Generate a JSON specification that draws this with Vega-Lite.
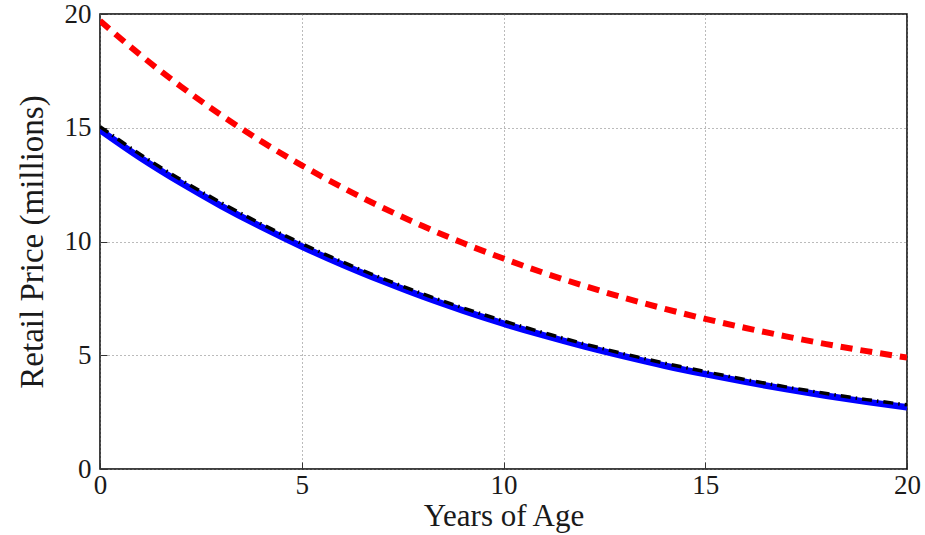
{
  "$schema": "https://vega.github.io/schema/vega-lite/v6.json",
  "width": 807,
  "height": 455,
  "autosize": "none",
  "padding": {"left": 100, "top": 14, "right": 18, "bottom": 66},
  "background": "white",
  "config": {
    "font": "Liberation Serif",
    "view": {"stroke": "black", "strokeWidth": 1.5},
    "axis": {
      "labelFont": "Liberation Serif",
      "titleFont": "Liberation Serif",
      "labelFontSize": 27,
      "titleFontSize": 33,
      "labelColor": "#1a1a1a",
      "titleColor": "#1a1a1a",
      "titleFontWeight": "normal",
      "grid": true,
      "gridColor": "#777",
      "gridDash": [1, 3],
      "gridWidth": 1,
      "domain": false,
      "ticks": true,
      "tickColor": "#333",
      "tickSize": -7,
      "tickWidth": 1
    }
  },
  "datasets": {
    "curves": [
      {"age": 0, "price": 14.9, "series": "blue"},
      {"age": 1, "price": 13.68, "series": "blue"},
      {"age": 2, "price": 12.58, "series": "blue"},
      {"age": 3, "price": 11.57, "series": "blue"},
      {"age": 4, "price": 10.64, "series": "blue"},
      {"age": 5, "price": 9.78, "series": "blue"},
      {"age": 6, "price": 8.99, "series": "blue"},
      {"age": 7, "price": 8.26, "series": "blue"},
      {"age": 8, "price": 7.58, "series": "blue"},
      {"age": 9, "price": 6.96, "series": "blue"},
      {"age": 10, "price": 6.39, "series": "blue"},
      {"age": 11, "price": 5.87, "series": "blue"},
      {"age": 12, "price": 5.39, "series": "blue"},
      {"age": 13, "price": 4.95, "series": "blue"},
      {"age": 14, "price": 4.54, "series": "blue"},
      {"age": 15, "price": 4.17, "series": "blue"},
      {"age": 16, "price": 3.83, "series": "blue"},
      {"age": 17, "price": 3.51, "series": "blue"},
      {"age": 18, "price": 3.22, "series": "blue"},
      {"age": 19, "price": 2.95, "series": "blue"},
      {"age": 20, "price": 2.71, "series": "blue"},
      {"age": 0, "price": 15.05, "series": "black"},
      {"age": 1, "price": 13.83, "series": "black"},
      {"age": 2, "price": 12.72, "series": "black"},
      {"age": 3, "price": 11.71, "series": "black"},
      {"age": 4, "price": 10.77, "series": "black"},
      {"age": 5, "price": 9.91, "series": "black"},
      {"age": 6, "price": 9.11, "series": "black"},
      {"age": 7, "price": 8.38, "series": "black"},
      {"age": 8, "price": 7.70, "series": "black"},
      {"age": 9, "price": 7.08, "series": "black"},
      {"age": 10, "price": 6.51, "series": "black"},
      {"age": 11, "price": 5.99, "series": "black"},
      {"age": 12, "price": 5.50, "series": "black"},
      {"age": 13, "price": 5.06, "series": "black"},
      {"age": 14, "price": 4.65, "series": "black"},
      {"age": 15, "price": 4.28, "series": "black"},
      {"age": 16, "price": 3.93, "series": "black"},
      {"age": 17, "price": 3.61, "series": "black"},
      {"age": 18, "price": 3.32, "series": "black"},
      {"age": 19, "price": 3.05, "series": "black"},
      {"age": 20, "price": 2.82, "series": "black"},
      {"age": 0, "price": 19.7, "series": "red"},
      {"age": 1, "price": 18.2, "series": "red"},
      {"age": 2, "price": 16.82, "series": "red"},
      {"age": 3, "price": 15.56, "series": "red"},
      {"age": 4, "price": 14.4, "series": "red"},
      {"age": 5, "price": 13.35, "series": "red"},
      {"age": 6, "price": 12.38, "series": "red"},
      {"age": 7, "price": 11.49, "series": "red"},
      {"age": 8, "price": 10.68, "series": "red"},
      {"age": 9, "price": 9.93, "series": "red"},
      {"age": 10, "price": 9.25, "series": "red"},
      {"age": 11, "price": 8.62, "series": "red"},
      {"age": 12, "price": 8.05, "series": "red"},
      {"age": 13, "price": 7.52, "series": "red"},
      {"age": 14, "price": 7.04, "series": "red"},
      {"age": 15, "price": 6.6, "series": "red"},
      {"age": 16, "price": 6.2, "series": "red"},
      {"age": 17, "price": 5.83, "series": "red"},
      {"age": 18, "price": 5.49, "series": "red"},
      {"age": 19, "price": 5.18, "series": "red"},
      {"age": 20, "price": 4.9, "series": "red"}
    ]
  },
  "data": {"name": "curves"},
  "encoding": {
    "x": {
      "field": "age", "type": "quantitative",
      "scale": {"domain": [0, 20], "nice": false, "zero": false},
      "axis": {"title": "Years of Age", "titleFontSize": 31, "titleBaseline": "alphabetic", "titleY": 56, "values": [0, 5, 10, 15, 20], "labelPadding": 10, "labelFlush": false}
    },
    "y": {
      "field": "price", "type": "quantitative",
      "scale": {"domain": [0, 20], "nice": false},
      "axis": {"title": "Retail Price (millions)", "values": [0, 5, 10, 15, 20], "labelPadding": 16, "titlePadding": 15, "labelFlush": false}
    }
  },
  "layer": [
    {
      "transform": [{"filter": "datum.series === 'blue'"}],
      "mark": {"type": "line", "color": "#0000ff", "strokeWidth": 6.5, "clip": true, "interpolate": "monotone"}
    },
    {
      "transform": [{"filter": "datum.series === 'black'"}],
      "mark": {"type": "line", "color": "#000000", "strokeWidth": 3.5, "strokeDash": [10, 5, 1.5, 5], "clip": true, "interpolate": "monotone"}
    },
    {
      "transform": [{"filter": "datum.series === 'red'"}],
      "mark": {"type": "line", "color": "#ff0000", "strokeWidth": 6, "strokeDash": [12, 8], "clip": true, "interpolate": "monotone"}
    }
  ]
}
